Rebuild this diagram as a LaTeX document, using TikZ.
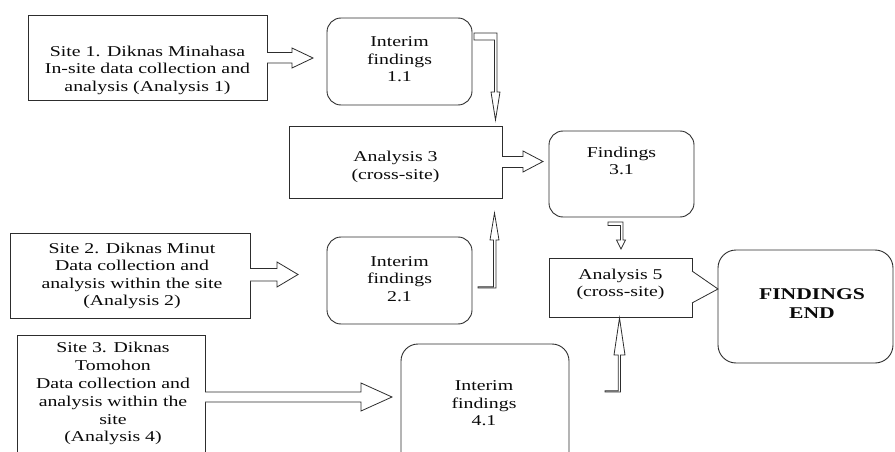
\documentclass[tikz,border=0pt]{standalone}
\usepackage{fontspec}
\setmainfont{Liberation Serif}[FakeStretch=1.32]
\definecolor{lc}{RGB}{45,45,45}
\definecolor{tc}{RGB}{10,10,10}
\begin{document}
\begin{tikzpicture}[x=1pt,y=-1pt,line join=miter,
  bx/.style={draw=lc, line width=0.9pt, fill=white, inner sep=0pt},
  rbx/.style={bx, rounded corners=14pt},
  txt/.style={align=center, inner sep=0pt, text=tc, font=\fontsize{15}{17.5}\selectfont},
  blk/.style={draw=lc, line width=0.8pt, fill=white, line join=miter}]
\useasboundingbox (0,0) rectangle (895,452);
\clip (0,0) rectangle (895,452);
% shapes
\node[bx,  minimum width=239pt, minimum height=85pt]  (s1)  at (147.5,57.5) {};
\node[rbx, minimum width=145pt, minimum height=87pt]  (i1)  at (399.5,61.5) {};
\node[bx,  minimum width=213pt, minimum height=72pt]  (a3)  at (395.5,162) {};
\node[rbx, minimum width=145pt, minimum height=86pt]  (f31) at (621.5,174) {};
\node[bx,  minimum width=240pt, minimum height=85pt]  (s2)  at (130,275.5) {};
\node[rbx, minimum width=145pt, minimum height=87pt]  (i2)  at (399.5,280.5) {};
\node[bx,  minimum width=188pt, minimum height=130pt] (s3)  at (111,400) {};
\node[rbx, rounded corners=17pt, minimum width=168pt, minimum height=136pt] (i41) at (485,412) {};
\node[bx,  minimum width=143pt, minimum height=59pt]  (a5)  at (620.5,287.5) {};
\node[rbx, rounded corners=18pt, minimum width=175pt, minimum height=113pt] (fe) at (805.5,306.5) {};
% texts
\node[txt] (s1t)  at (147.5,70.25) {Site 1. Diknas Minahasa\\In-site data collection and\\analysis (Analysis 1)};
\node[txt] (i1t)  at (399.5,59.25) {Interim\\findings\\1.1};
\node[txt] (a3t)  at (395.5,167) {Analysis 3\\(cross-site)};
\node[txt] (f31t) at (621.5,160.8) {Findings\\3.1};
\node[txt] (s2t)  at (132,275.8) {Site 2. Diknas Minut\\Data collection and\\analysis within the site\\(Analysis 2)};
\node[txt] (i2t)  at (399.5,278.75) {Interim\\findings\\2.1};
\node[txt, font=\fontsize{15}{17.8}\selectfont] (s3t) at (113,393.75) {Site 3. Diknas\\Tomohon\\Data collection and\\analysis within the\\site\\(Analysis 4)};
\node[txt] (i41t) at (484,403.25) {Interim\\findings\\4.1};
\node[txt, font=\fontsize{15}{16.5}\selectfont] (a5t) at (620.5,284.25) {Analysis 5\\(cross-site)};
\node[txt, font=\fontsize{16.4}{19}\selectfont\bfseries] (fet) at (812,303.75) {FINDINGS\\END};
% block arrows
\draw[blk] (267,63) -- (292,63) -- (292,68) -- (313,58) -- (292,48) -- (292,52.5) -- (267,52.5);
\draw[blk] (474,33) -- (497,33) -- (497,92) -- (500,92) -- (495.5,120) -- (491,92) -- (494.5,92) -- (494.5,40) -- (474,40) -- cycle;
\draw[blk] (502,167.5) -- (523,167.5) -- (523,172) -- (543,161.5) -- (523,151) -- (523,156.5) -- (502,156.5);
\draw[blk] (608,222) -- (623,222) -- (623,240) -- (625.5,240) -- (621,249) -- (616.5,240) -- (620.5,240) -- (620.5,225.5) -- (608,225.5) -- cycle;
\draw[blk] (250,281) -- (277,281) -- (277,287) -- (298,274.5) -- (277,262) -- (277,268.5) -- (250,268.5);
\draw[blk] (478,288) -- (496,288) -- (496,240) -- (499,240) -- (494.5,213) -- (490,240) -- (493.5,240) -- (493.5,286.8) -- (478,286.8) -- cycle;
\draw[blk] (205,402) -- (361,402) -- (361,411) -- (392,397) -- (361,383) -- (361,392) -- (205,392);
\draw[blk] (605,392) -- (620.5,392) -- (620.5,355) -- (625,355) -- (619.5,318) -- (614,355) -- (618.3,355) -- (618.3,390.8) -- (605,390.8) -- cycle;
% callout wedge between Analysis 5 and FINDINGS END
\draw[blk] (692,303) -- (718,289) -- (692,271);
\end{tikzpicture}
\end{document}
